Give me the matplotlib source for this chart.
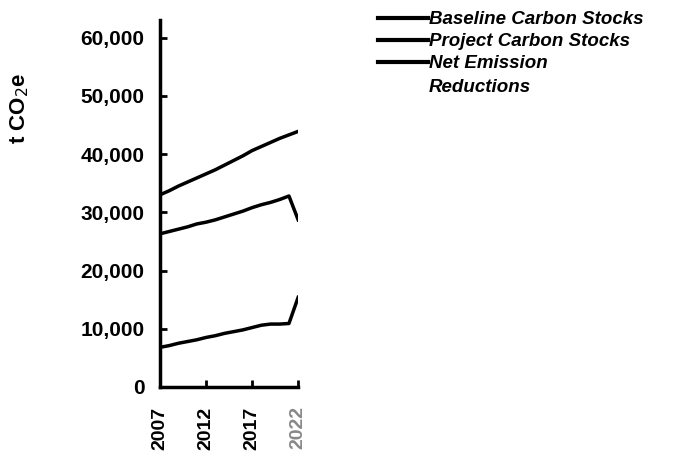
import numpy as np
import matplotlib.pyplot as plt

plt.rcParams["font.family"] = ["Liberation Sans", "DejaVu Sans"]

# Jahreswerte
years = np.arange(2007, 2023)
baseline = [33000, 33700, 34500, 35200, 35900, 36600, 37300, 38100,
            38900, 39700, 40600, 41300, 42000, 42700, 43300, 43900]
project = [26300, 26700, 27100, 27500, 28000, 28300, 28700, 29200,
           29700, 30200, 30800, 31300, 31700, 32200, 32800, 28700]
net = [6800, 7100, 7500, 7800, 8100, 8500, 8800, 9200,
       9500, 9800, 10200, 10600, 10800, 10800, 10900, 15400]

labels = ["Baseline Carbon Stocks", "Project Carbon Stocks", "Net Emission"]
label_cont = "Reductions"
xticks = [2007, 2012, 2017, 2022]
yticks = [0, 10000, 20000, 30000, 40000, 50000, 60000]

fig = plt.figure(figsize=(6.91, 4.59), dpi=100)
ax = fig.add_axes([0.2315, 0.157, 0.2, 0.799])

for series, label in zip([baseline, project, net], labels):
    ax.plot(years, series, "-", color="black", lw=2.5, label=label)

ax.set_xlim(2007, 2022)
ax.set_ylim(0, 63000)

# Achsen: nur links und unten, dick
for side in ["top", "right"]:
    ax.spines[side].set_visible(False)
for side in ["left", "bottom"]:
    ax.spines[side].set_linewidth(2.5)

ax.set_yticks(yticks)
ax.set_yticklabels([f"{v:,}" for v in yticks], fontsize=15, fontweight="bold")
ax.set_xticks(xticks)
ax.set_xticklabels([str(v) for v in xticks], rotation=90, fontsize=14, fontweight="bold")
ax.get_xticklabels()[-1].set_color("#888888")
ax.tick_params(axis="both", direction="in", length=5, width=2)
ax.tick_params(axis="y", pad=11)
ax.tick_params(axis="x", pad=14)

ax.set_ylabel("t CO$_2$e", fontsize=16, fontweight="bold")
ax.yaxis.set_label_coords(-0.93, 0.76)

leg = fig.legend(loc="upper left", bbox_to_anchor=(0.522, 1.012), frameon=False,
                 prop={"size": 13.5, "style": "italic", "weight": "bold"},
                 handlelength=2.7, handletextpad=0.05, labelspacing=0.25)
for h in leg.get_lines():
    h.set_linewidth(3)

# zweite Zeile des dritten Eintrags, linksbündig unter dem Legendentext
fig.canvas.draw()
bb = leg.get_texts()[2].get_window_extent().transformed(fig.transFigure.inverted())
fig.text(bb.x0, bb.y0 - 0.014, label_cont, ha="left", va="top",
         fontsize=13.5, style="italic", fontweight="bold")

plt.savefig("out.png", dpi=100)
plt.close()
